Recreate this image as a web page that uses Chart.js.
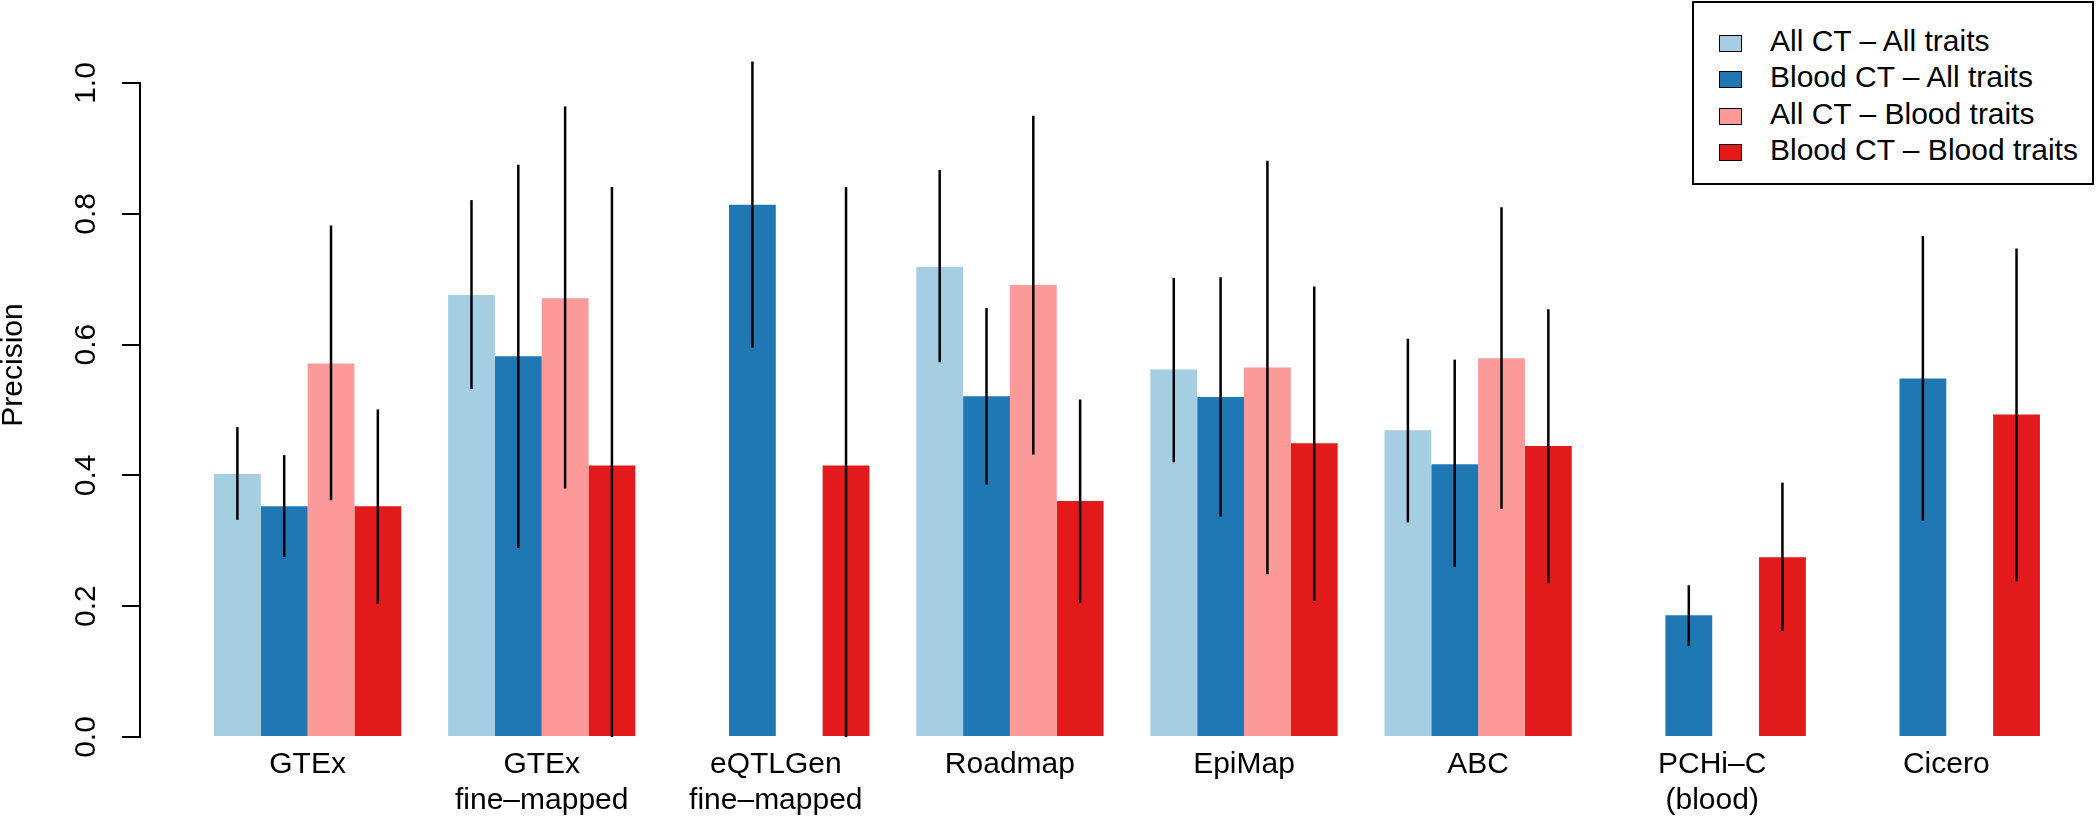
<!DOCTYPE html>
<html>
<head>
<meta charset="utf-8">
<script src="https://cdn.jsdelivr.net/npm/chart.js@4.4.1/dist/chart.umd.min.js"></script>
<style>
    body { margin: 0; background: #fff; }
    #wrap { position: relative; width: 2100px; height: 821px; }
    #custom-legend {
        position: absolute; left: 1692px; top: 1px; width: 402px; height: 184px;
        box-sizing: border-box; border: 2px solid #000; background: #fff;
        margin: 0; padding: 20px 0 0 25px; list-style: none;
        font-family: 'Liberation Sans', Arial, Helvetica, sans-serif; font-size: 30px; color: #000;
    }
    #custom-legend li { height: 36.3px; line-height: 36.3px; white-space: nowrap; }
    #custom-legend span { display: inline-block; width: 23px; height: 17px; box-sizing: border-box;
        border: 1.5px solid #000; margin-right: 28px; vertical-align: -1px; }
</style>
</head>
<body>
<div id="wrap">
    <canvas id="precisionChart"></canvas>
    <ul id="custom-legend"></ul>
</div>
<script>
// categories (one group of bars per method)
const groupLabels = [['GTEx'], ['GTEx', 'fine–mapped'], ['eQTLGen', 'fine–mapped'], ['Roadmap'],
    ['EpiMap'], ['ABC'], ['PCHi–C', '(blood)'], ['Cicero']];
const seriesNames = ['All CT – All traits', 'Blood CT – All traits', 'All CT – Blood traits', 'Blood CT – Blood traits'];
const seriesColors = ['#a6cee3', '#1f78b4', '#fb9a99', '#e31a1c'];

// precision + confidence interval, per series
const allCtAllTraits = [0.402, 0.676, null, 0.719, 0.562, 0.469, null, null];
const allCtAllTraitsLo = [0.332, 0.532, null, 0.573, 0.420, 0.328, null, null];
const allCtAllTraitsHi = [0.474, 0.821, null, 0.867, 0.702, 0.609, null, null];

const bloodCtAllTraits = [0.353, 0.582, 0.814, 0.521, 0.520, 0.417, 0.186, 0.548];
const bloodCtAllTraitsLo = [0.275, 0.289, 0.595, 0.386, 0.337, 0.260, 0.139, 0.331];
const bloodCtAllTraitsHi = [0.431, 0.875, 1.033, 0.656, 0.703, 0.577, 0.232, 0.766];

const allCtBloodTraits = [0.571, 0.671, null, 0.691, 0.565, 0.579, null, null];
const allCtBloodTraitsLo = [0.362, 0.380, null, 0.432, 0.249, 0.349, null, null];
const allCtBloodTraitsHi = [0.782, 0.964, null, 0.950, 0.881, 0.810, null, null];

const bloodCtBloodTraits = [0.353, 0.415, 0.415, 0.361, 0.449, 0.445, 0.275, 0.493];
const bloodCtBloodTraitsLo = [0.204, 0.000, 0.000, 0.205, 0.208, 0.235, 0.162, 0.238];
const bloodCtBloodTraitsHi = [0.501, 0.841, 0.841, 0.516, 0.689, 0.654, 0.389, 0.747];

const yTicks = [0, 0.2, 0.4, 0.6, 0.8, 1.0];

const values = [allCtAllTraits, bloodCtAllTraits, allCtBloodTraits, bloodCtBloodTraits];
const lows = [allCtAllTraitsLo, bloodCtAllTraitsLo, allCtBloodTraitsLo, bloodCtBloodTraitsLo];
const highs = [allCtAllTraitsHi, bloodCtAllTraitsHi, allCtBloodTraitsHi, bloodCtBloodTraitsHi];

const FONT = "'Liberation Sans', Arial, Helvetica, sans-serif";

// error bars + y tick labels + y title, drawn with the chart's own scales
const extrasPlugin = {
    id: 'extras',
    afterDatasetsDraw(chart) {
        const ctx = chart.ctx;
        const y = chart.scales.y;
        ctx.save();
        ctx.strokeStyle = '#000';
        ctx.lineWidth = 2.5;
        chart.data.datasets.forEach((ds, di) => {
            const meta = chart.getDatasetMeta(di);
            meta.data.forEach((bar, i) => {
                if (values[di][i] === null) return;
                ctx.beginPath();
                ctx.moveTo(bar.x, y.getPixelForValue(lows[di][i]));
                ctx.lineTo(bar.x, y.getPixelForValue(highs[di][i]));
                ctx.stroke();
            });
        });
        ctx.restore();
    },
    afterDraw(chart) {
        const ctx = chart.ctx;
        const y = chart.scales.y;
        ctx.save();
        ctx.fillStyle = '#000';
        ctx.font = '30px ' + FONT;
        ctx.textAlign = 'center';
        ctx.textBaseline = 'middle';
        yTicks.forEach(t => {
            ctx.save();
            ctx.translate(87, y.getPixelForValue(t));
            ctx.rotate(-Math.PI / 2);
            ctx.fillText(t.toFixed(1), 0, 0);
            ctx.restore();
        });
        ctx.translate(14, 365);
        ctx.rotate(-Math.PI / 2);
        ctx.fillText('Precision', 0, 0);
        ctx.restore();
    }
};

const ctx = document.getElementById('precisionChart').getContext('2d');
new Chart(ctx, {
    type: 'bar',
    data: {
        datasets: seriesNames.map((name, di) => ({
            label: name,
            data: values[di].map((v, i) => ({ x: i, y: v })),
            backgroundColor: seriesColors[di],
            borderWidth: 0,
            categoryPercentage: 0.8,
            barPercentage: 1.0
        }))
    },
    options: {
        responsive: true,
        maintainAspectRatio: false,
        animation: false,
        layout: { padding: { top: 83, right: 2, left: 0, bottom: 0 } },
        plugins: {
            legend: { display: false },
            tooltip: { enabled: false }
        },
        scales: {
            x: {
                type: 'linear',
                offset: false,
                min: -0.716,
                max: 7.648,
                afterBuildTicks: function (scale) { scale.ticks = groupLabels.map((l, i) => ({ value: i })); },
                grid: { display: false, offset: false },
                border: { display: false },
                ticks: {
                    autoSkip: false,
                    maxRotation: 0,
                    padding: 2,
                    color: '#000',
                    font: { family: FONT, size: 30 },
                    callback: function (v) {
                        return groupLabels[v] || '';
                    }
                }
            },
            y: {
                min: 0,
                max: 1,
                afterFit: function (scale) { scale.width = 140; },
                afterBuildTicks: function (scale) { scale.ticks = yTicks.map(v => ({ value: v })); },
                ticks: { display: false },
                border: { display: true, color: '#000', width: 2 },
                grid: { drawOnChartArea: false, drawTicks: true, tickLength: 18, color: '#000', lineWidth: 2 }
            }
        }
    },
    plugins: [extrasPlugin]
});

// custom legend
const legendContainer = document.getElementById('custom-legend');
seriesNames.forEach((label, index) => {
    const li = document.createElement('li');
    li.innerHTML = `<span style="background:${seriesColors[index]};"></span>${label}`;
    legendContainer.appendChild(li);
});
</script>
</body>
</html>
